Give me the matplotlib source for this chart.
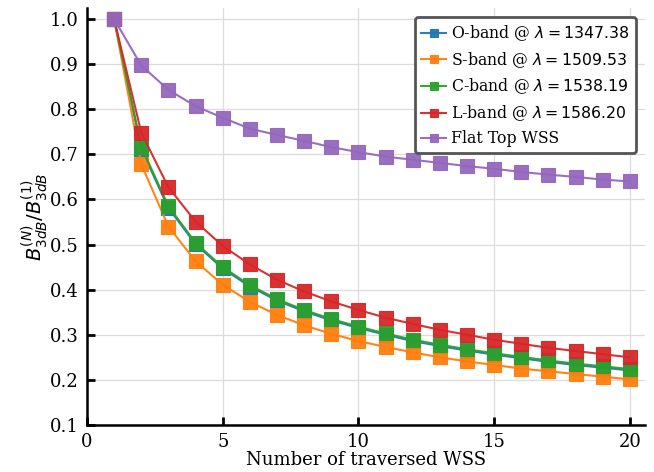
import matplotlib
matplotlib.use('Agg')
import matplotlib.pyplot as plt
import numpy as np

# 数据
n_wss = list(range(1, 21))

o_band = [1.0, 0.712, 0.581, 0.501, 0.447, 0.407, 0.376, 0.352, 0.332, 0.315,
          0.300, 0.286, 0.275, 0.265, 0.256, 0.248, 0.240, 0.233, 0.227, 0.221]
s_band = [1.0, 0.678, 0.540, 0.463, 0.411, 0.373, 0.344, 0.321, 0.302, 0.286,
          0.273, 0.261, 0.250, 0.241, 0.233, 0.225, 0.219, 0.213, 0.207, 0.201]
c_band = [1.0, 0.717, 0.585, 0.504, 0.450, 0.410, 0.379, 0.355, 0.335, 0.318,
          0.303, 0.289, 0.278, 0.268, 0.259, 0.251, 0.243, 0.236, 0.230, 0.224]
l_band = [1.0, 0.748, 0.627, 0.551, 0.497, 0.456, 0.422, 0.396, 0.374, 0.355,
          0.338, 0.324, 0.311, 0.300, 0.289, 0.280, 0.271, 0.264, 0.257, 0.250]
flat_top = [1.0, 0.897, 0.843, 0.807, 0.781, 0.757, 0.743, 0.730, 0.716, 0.705,
            0.695, 0.688, 0.681, 0.674, 0.668, 0.661, 0.655, 0.650, 0.644, 0.640]

labels = [r'O-band @ $\lambda = 1347.38$',
          r'S-band @ $\lambda = 1509.53$',
          r'C-band @ $\lambda = 1538.19$',
          r'L-band @ $\lambda = 1586.20$',
          'Flat Top WSS']
colors = ['#1f77b4', '#ff7f0e', '#2ca02c', '#d62728', '#9467bd']

plt.rcParams['font.family'] = 'DejaVu Serif'
plt.rcParams['mathtext.fontset'] = 'dejavusans'

fig = plt.figure(figsize=(6.54, 4.72), dpi=100)
ax = fig.add_axes([0.133, 0.0996, 0.853, 0.883])

for ys, lab, c in zip([o_band, s_band, c_band, l_band, flat_top], labels, colors):
    ax.plot(n_wss, ys, marker='s', markersize=9.5, color=c, linewidth=1.5,
            markeredgecolor=c, markeredgewidth=0.8, alpha=0.95, label=lab)

ax.set_xlim(0, 20.55)
ax.set_ylim(0.1, 1.024)
ax.set_xticks([0, 5, 10, 15, 20])
ax.set_yticks(np.arange(0.1, 1.01, 0.1))
ax.yaxis.set_major_formatter(matplotlib.ticker.FormatStrFormatter('%.1f'))

ax.grid(True, color='#dcdcdc', linewidth=0.9)
ax.set_axisbelow(True)
for side in ['top', 'right']:
    ax.spines[side].set_visible(False)
for side in ['left', 'bottom']:
    ax.spines[side].set_linewidth(1.8)
ax.tick_params(direction='in', length=6, width=2, labelsize=13, pad=6)

ax.set_xlabel('Number of traversed WSS', fontsize=13, labelpad=0)
ax.set_ylabel(r'$B_{3dB}^{(N)}/B_{3dB}^{(1)}$', fontsize=14, labelpad=0)

leg = ax.legend(loc='upper right', fontsize=11.3, fancybox=True, framealpha=1,
                handlelength=1.6, borderpad=0.4, labelspacing=0.44,
                handletextpad=0.32, borderaxespad=0.55, markerscale=0.6)
leg.get_frame().set_edgecolor('#555555')
leg.get_frame().set_linewidth(2)

plt.savefig('out.png', dpi=100)
